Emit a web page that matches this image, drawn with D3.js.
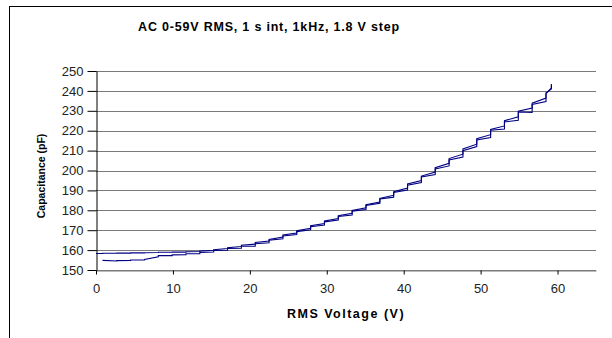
<!DOCTYPE html>
<html>
<head>
<meta charset="utf-8">
<script src="https://cdn.jsdelivr.net/npm/d3@7"></script>
<style>
  body { margin: 0; background: #fff; }
  text { font-family: "Liberation Sans", Arial, sans-serif; }
</style>
</head>
<body>
<div id="chart"></div>
<script>
// up sweep: two readings at each voltage step (first and last of the 1 s interval)
var upVolts = [0.9, 2.7, 4.5, 6.3, 8.1, 9.9, 11.7, 13.5, 15.3, 17.1, 18.9, 20.7, 22.5, 24.3, 26.1, 27.9, 29.7,
  31.5, 33.3, 35.1, 36.9, 38.7, 40.5, 42.3, 44.1, 45.9, 47.7, 49.5, 51.3, 53.1, 54.9, 56.7, 58.5, 59.2];
var upFirst = [154.6, 154.5, 154.8, 155.1, 156.6, 157.2, 157.7, 158.2, 159.0, 159.9, 160.9, 162.0, 163.7, 165.7, 167.8, 170.2, 172.6,
  175.1, 177.6, 180.4, 183.5, 186.6, 190.2, 194.0, 198.0, 202.3, 206.8, 212.0, 216.6, 220.8, 225.2, 229.2, 234.6, 241.0];
var upLast = [154.8, 154.7, 155.0, 155.3, 157.2, 157.6, 158.2, 158.8, 159.8, 160.8, 161.9, 163.2, 165.0, 167.1, 169.3, 171.8, 174.2,
  176.9, 179.6, 182.4, 185.7, 189.0, 192.6, 196.8, 200.8, 205.3, 210.0, 215.4, 220.2, 224.4, 229.4, 233.2, 239.0, 243.0];

// down sweep, 59 V back to 0 V
var downVolts = [59.2, 58.5, 56.7, 54.9, 53.1, 51.3, 49.5, 47.7, 45.9, 44.1, 42.3, 40.5, 38.7, 36.9, 35.1, 33.3, 31.5,
  29.7, 27.9, 26.1, 24.3, 22.5, 20.7, 18.9, 17.1, 15.3, 13.5, 11.7, 9.9, 8.1, 6.3, 4.5, 2.7, 0.9, 0];
var downFirst = [243.5, 238.6, 233.8, 229.8, 225.0, 220.6, 216.0, 210.8, 206.0, 201.4, 197.2, 193.2, 189.4, 186.0, 182.8, 179.9, 177.3,
  174.6, 172.2, 169.8, 167.6, 165.4, 163.8, 162.4, 161.2, 160.2, 159.5, 159.2, 159.0, 158.9, 158.7, 158.6, 158.5, 158.4, 158.3];
var downLast = [241.5, 236.4, 231.4, 227.0, 222.4, 218.0, 213.2, 208.2, 203.6, 199.2, 195.0, 191.2, 187.6, 184.2, 181.2, 178.5, 175.9,
  173.4, 171.0, 168.6, 166.6, 164.6, 163.0, 161.8, 160.8, 159.9, 159.3, 159.0, 158.9, 158.8, 158.6, 158.5, 158.4, 158.3, 158.3];

var xTicks = [0, 10, 20, 30, 40, 50, 60];
var yTicks = [150, 160, 170, 180, 190, 200, 210, 220, 230, 240, 250];

var W = 612, H = 338;
var margin = {top: 71, right: 16, bottom: 68, left: 96},
    width = W - margin.left - margin.right,
    height = H - margin.top - margin.bottom;

var svg = d3.select("#chart")
    .append("svg")
    .attr("width", W)
    .attr("height", H);

// outer chart frame (runs off the right and bottom)
svg.append("rect")
    .attr("x", 9.5).attr("y", 6.5)
    .attr("width", W).attr("height", H)
    .attr("fill", "none")
    .attr("stroke", "#000");

svg.append("text")
    .attr("x", 269).attr("y", 31)
    .attr("text-anchor", "middle")
    .style("font-size", "12.5px")
    .style("font-weight", "bold")
    .style("letter-spacing", "0.8px")
    .text("AC 0-59V RMS, 1 s int, 1kHz, 1.8 V step");

var g = svg.append("g")
    .attr("transform", "translate(" + margin.left + "," + margin.top + ")");

var x = d3.scaleLinear().domain([0, 65]).range([0, width]);
var y = d3.scaleLinear().domain([150, 250]).range([height, 0]);

// gridlines
g.selectAll(".grid")
  .data(yTicks)
  .enter()
  .append("line")
    .attr("x1", 0).attr("x2", width)
    .attr("y1", function(d) { return Math.round(y(d)) + 0.5; })
    .attr("y2", function(d) { return Math.round(y(d)) + 0.5; })
    .attr("stroke", "#7a7a7a")
    .attr("stroke-width", 1.2);

// X axis
var xAxis = g.append("g")
    .attr("transform", "translate(0," + (Math.round(height) + 0.5) + ")")
    .call(d3.axisBottom(x).tickValues(xTicks).tickSize(4).tickPadding(9).tickSizeOuter(0));
xAxis.select(".domain").attr("stroke", "#7a7a7a").attr("stroke-width", 1.2);
xAxis.selectAll("text").style("font-size", "13px").attr("fill", "#222").style("font-family", "Liberation Sans, Arial, sans-serif");

// Y axis
var yAxis = g.append("g")
    .attr("transform", "translate(0.5,0)")
    .call(d3.axisLeft(y).tickValues(yTicks).tickSize(9).tickPadding(4).tickSizeOuter(0));
yAxis.selectAll("text").style("font-size", "13px").attr("fill", "#222").style("font-family", "Liberation Sans, Arial, sans-serif");

// traces
function readings(volts, first, last) {
  var pts = [];
  volts.forEach(function(v, i) {
    pts.push([v, first[i]]);
    pts.push([v, last[i]]);
  });
  return pts;
}

var line = d3.line()
    .x(function(d) { return x(d[0]); })
    .y(function(d) { return y(d[1]); });

g.append("path")
    .datum(readings(upVolts, upFirst, upLast))
    .attr("d", line)
    .attr("fill", "none")
    .attr("stroke", "#000080")
    .attr("stroke-width", 1.1);

g.append("path")
    .datum(readings(downVolts, downFirst, downLast))
    .attr("d", line)
    .attr("fill", "none")
    .attr("stroke", "#000080")
    .attr("stroke-width", 1.1);

// axis titles
svg.append("text")
    .attr("x", 346).attr("y", 318)
    .attr("text-anchor", "middle")
    .style("font-size", "12.5px")
    .style("font-weight", "bold")
    .style("letter-spacing", "1.5px")
    .text("RMS Voltage (V)");

svg.append("text")
    .attr("transform", "translate(45,176) rotate(-90)")
    .attr("text-anchor", "middle")
    .style("font-size", "10.5px")
    .style("font-weight", "bold")
    .text("Capacitance (pF)");
</script>
</body>
</html>
